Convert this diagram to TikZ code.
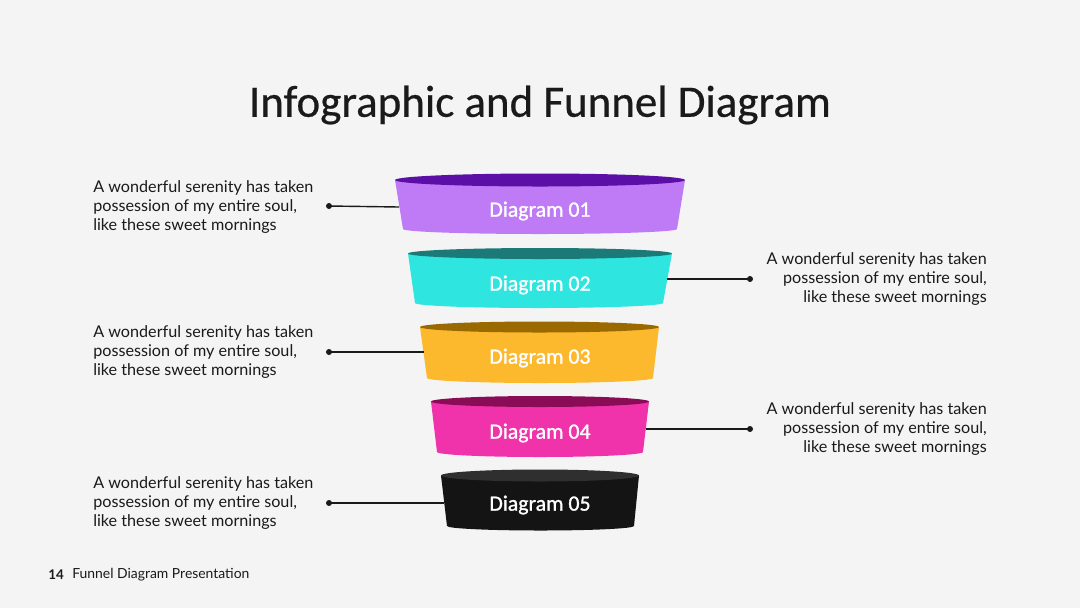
\documentclass[tikz,border=0pt]{standalone}
\usepackage{fontspec}
\usepackage{tikz}
\usepackage{xcolor}
\setmainfont{Carlito}
\newfontfamily\descfont{Lato}
\newfontfamily\heavyfont[BoldFont=Carlito,BoldFeatures={FakeBold=1.2}]{Carlito}
\newfontfamily\headfont[BoldFont=Carlito,BoldFeatures={FakeBold=0.5}]{Carlito}

\definecolor{bgcol}{HTML}{F4F4F4}
\definecolor{topA}{HTML}{5C0FA6}\definecolor{bodyA}{HTML}{BE7BF5}
\definecolor{topB}{HTML}{1B7A77}\definecolor{bodyB}{HTML}{2EE5DF}
\definecolor{topC}{HTML}{9A6900}\definecolor{bodyC}{HTML}{FDB92E}
\definecolor{topD}{HTML}{8A0B56}\definecolor{bodyD}{HTML}{F033AB}
\definecolor{topE}{HTML}{2F2F2F}\definecolor{bodyE}{HTML}{141414}
\definecolor{inkcol}{HTML}{1A1A1A}

\tikzset{
  lbl/.style={text=white,font=\heavyfont\bfseries\fontsize{15.5}{18}\selectfont},
  descl/.style={anchor=west,align=left,inner sep=0pt,text=inkcol,font=\descfont\fontsize{11.5}{13.5}\selectfont},
  descr/.style={anchor=east,align=right,inner sep=0pt,text=inkcol,font=\descfont\fontsize{11.5}{13.5}\selectfont},
  lead/.style={line width=1pt,draw=inkcol},
}

\begin{document}
\begin{tikzpicture}[x=0.025cm,y=-0.025cm]
\useasboundingbox (0,0) rectangle (1080,608);
\fill[bgcol] (0,0) rectangle (1080,608);
\node[text=inkcol,font=\headfont\bfseries\fontsize{32}{38}\selectfont] (title) at (540,105) {Infographic and Funnel Diagram};
% funnel bodies and tops
\fill[bodyA] (395,180)--(403,229) arc[start angle=180,end angle=0,x radius=137,y radius=5]--(685,180)--cycle;
\fill[topA] (540,180) ellipse [x radius=145,y radius=6.5];
\node[lbl] (d1) at (540,211) {Diagram 01};
\fill[bodyB] (408,253.5)--(415,303) arc[start angle=180,end angle=0,x radius=124,y radius=5]--(672,253.5)--cycle;
\fill[topB] (540,253.5) ellipse [x radius=132,y radius=5.5];
\node[lbl] (d2) at (540,285) {Diagram 02};
\fill[bodyC] (420,327)--(427,378) arc[start angle=180,end angle=0,x radius=113,y radius=5]--(659,327)--cycle;
\fill[topC] (539.5,327) ellipse [x radius=119.5,y radius=5.5];
\node[lbl] (d3) at (540,358) {Diagram 03};
\fill[bodyD] (431,401.5)--(437,452) arc[start angle=180,end angle=0,x radius=103,y radius=5]--(649,401.5)--cycle;
\fill[topD] (540,401.5) ellipse [x radius=109,y radius=5.5];
\node[lbl] (d4) at (540,433) {Diagram 04};
\fill[bodyE] (441,475.5)--(447,526) arc[start angle=180,end angle=0,x radius=93.5,y radius=4.5]--(639,475.5)--cycle;
\fill[topE] (540,475.5) ellipse [x radius=99,y radius=6];
\node[lbl] (d5) at (540,505) {Diagram 05};
% descriptions
\node[descl] (t1) at (93,207) {A wonderful serenity has taken\\possession of my entire soul,\\like these sweet mornings};
\node[descr] (t2) at (987,279) {A wonderful serenity has taken\\possession of my entire soul,\\like these sweet mornings};
\node[descl] (t3) at (93,352) {A wonderful serenity has taken\\possession of my entire soul,\\like these sweet mornings};
\node[descr] (t4) at (987,429) {A wonderful serenity has taken\\possession of my entire soul,\\like these sweet mornings};
\node[descl] (t5) at (93,503) {A wonderful serenity has taken\\possession of my entire soul,\\like these sweet mornings};
% leader lines
\coordinate (p1) at (329,206);\coordinate (e1) at (399,207);
\coordinate (p2) at (750,279);\coordinate (e2) at (667,279);
\coordinate (p3) at (329,352);\coordinate (e3) at (424,352);
\coordinate (p4) at (750,429);\coordinate (e4) at (646,429);
\coordinate (p5) at (329,503);\coordinate (e5) at (444,503);
\draw[lead] (p1)--(e1);\fill[inkcol] (p1) circle (3);
\draw[lead] (e2)--(p2);\fill[inkcol] (p2) circle (3);
\draw[lead] (p3)--(e3);\fill[inkcol] (p3) circle (3);
\draw[lead] (e4)--(p4);\fill[inkcol] (p4) circle (3);
\draw[lead] (p5)--(e5);\fill[inkcol] (p5) circle (3);
% footer
\node[anchor=west,inner sep=0pt,text=inkcol,font=\descfont\bfseries\fontsize{9.5}{11}\selectfont] (pg) at (48,575) {14};
\node[anchor=west,inner sep=0pt,text=inkcol,font=\descfont\fontsize{9.9}{11}\selectfont] (foot) at (72,575) {Funnel Diagram Presentation};
\end{tikzpicture}
\end{document}
